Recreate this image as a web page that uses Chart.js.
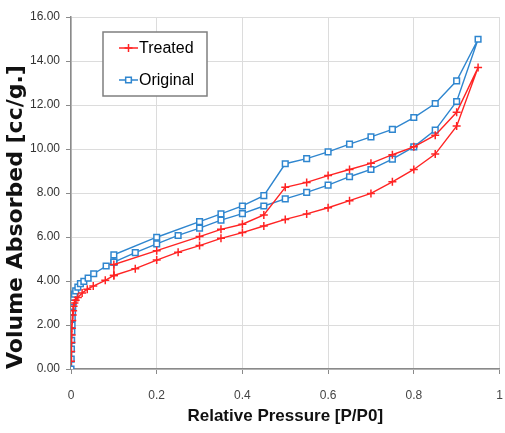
<!DOCTYPE html>
<html>
<head>
<meta charset="utf-8">
<script src="https://cdn.jsdelivr.net/npm/chart.js@4.4.1/dist/chart.umd.min.js"></script>
<style>
  html, body { margin: 0; padding: 0; background: #fff; overflow: hidden; }
  #chart { display: block; }
</style>
</head>
<body>
<canvas id="chart" width="505" height="433"></canvas>
<script>
// Isotherm data: adsorption branch up to 0.95, then desorption back down to 0.1
const treatedP = [0, 0.0005, 0.001, 0.0015, 0.002, 0.003, 0.004, 0.005, 0.006, 0.008, 0.011, 0.016, 0.026, 0.038, 0.052, 0.08, 0.1, 0.15, 0.2, 0.25, 0.3, 0.35, 0.4, 0.45, 0.5, 0.55, 0.6, 0.65, 0.7, 0.75, 0.8, 0.85, 0.9, 0.95,
  0.9, 0.85, 0.8, 0.75, 0.7, 0.65, 0.6, 0.55, 0.5, 0.45, 0.4, 0.35, 0.3, 0.2, 0.1, 0.1];
const treatedV = [0.35, 0.8, 1.2, 1.55, 1.85, 2.2, 2.45, 2.65, 2.85, 3.0, 3.12, 3.25, 3.45, 3.63, 3.77, 4.03, 4.25, 4.56, 4.95, 5.31, 5.61, 5.94, 6.2, 6.5, 6.8, 7.05, 7.33, 7.65, 7.98, 8.51, 9.07, 9.77, 11.04, 13.7,
  11.67, 10.63, 10.1, 9.74, 9.35, 9.07, 8.79, 8.48, 8.26, 7.0, 6.58, 6.35, 6.02, 5.38, 4.75, 4.25];

const originalP = [0, 0.0005, 0.001, 0.0015, 0.002, 0.0025, 0.003, 0.0035, 0.004, 0.005, 0.006, 0.008, 0.011, 0.016, 0.022, 0.03, 0.04, 0.053, 0.082, 0.1, 0.15, 0.2, 0.25, 0.3, 0.35, 0.4, 0.45, 0.5, 0.55, 0.6, 0.65, 0.7, 0.75, 0.8, 0.85, 0.9, 0.95,
  0.9, 0.85, 0.8, 0.75, 0.7, 0.65, 0.6, 0.55, 0.5, 0.45, 0.4, 0.35, 0.3, 0.2, 0.1, 0.1];
const originalV = [0, 0.45, 0.9, 1.3, 1.7, 2.0, 2.3, 2.6, 2.85, 3.05, 3.25, 3.4, 3.55, 3.72, 3.88, 3.98, 4.13, 4.33, 4.68, 4.86, 5.29, 5.69, 6.07, 6.4, 6.77, 7.06, 7.41, 7.73, 8.03, 8.36, 8.74, 9.07, 9.54, 10.1, 10.86, 12.16, 14.99,
  13.1, 12.07, 11.43, 10.89, 10.55, 10.22, 9.87, 9.56, 9.33, 7.88, 7.41, 7.05, 6.7, 5.99, 5.19, 4.86];

const seriesLabels = ['Treated', 'Original'];

const RED = '#ff2424';
const BLUE = '#2f86cf';
const SANS = "'Liberation Sans', Arial, sans-serif";

const toPoints = (xs, ys) => xs.map((x, i) => ({ x: x, y: ys[i] }));

// Legend drawn as a boxed panel inside the plot, like the original figure
const legendBox = {
  id: 'legendBox',
  afterDraw(chart) {
    const { ctx, chartArea } = chart;
    const x = chartArea.left + 32;
    const y = chartArea.top + 15;
    const w = 104, h = 64;
    ctx.save();
    ctx.fillStyle = '#ffffff';
    ctx.fillRect(x, y, w, h);
    ctx.strokeStyle = '#7f7f7f';
    ctx.lineWidth = 1.5;
    ctx.strokeRect(x, y, w, h);
    chart.data.datasets.forEach((ds, i) => {
      const ly = y + 16 + i * 32;
      ctx.strokeStyle = ds.borderColor;
      ctx.lineWidth = 1.5;
      ctx.beginPath();
      ctx.moveTo(x + 16, ly);
      ctx.lineTo(x + 35, ly);
      ctx.stroke();
      ctx.fillStyle = '#ffffff';
      Chart.helpers.drawPoint(ctx, {
        pointStyle: ds.pointStyle,
        radius: ds.pointRadius,
        borderWidth: ds.pointBorderWidth,
        rotation: 0
      }, x + 25.5, ly);
      ctx.fillStyle = '#000000';
      ctx.font = '16px ' + SANS;
      ctx.textBaseline = 'middle';
      ctx.textAlign = 'left';
      ctx.fillText(ds.label, x + 36, ly + 1);
    });
    ctx.restore();
  }
};

const data = {
  datasets: [{
    label: seriesLabels[0],
    data: toPoints(treatedP, treatedV),
    borderColor: RED,
    backgroundColor: RED,
    borderWidth: 1.4,
    pointStyle: 'cross',
    pointRadius: 4,
    pointBorderWidth: 1.5,
    pointBorderColor: RED,
    showLine: true,
    tension: 0
  }, {
    label: seriesLabels[1],
    data: toPoints(originalP, originalV),
    borderColor: BLUE,
    backgroundColor: '#ffffff',
    borderWidth: 1.4,
    pointStyle: 'rect',
    pointRadius: 4,
    pointBorderWidth: 1.5,
    pointBorderColor: BLUE,
    pointBackgroundColor: '#ffffff',
    showLine: true,
    tension: 0
  }]
};

new Chart(document.getElementById('chart'), {
  type: 'scatter',
  data: data,
  options: {
    responsive: false,
    animation: false,
    layout: { padding: { top: 17, right: 0, left: 0, bottom: 0 } },
    plugins: {
      legend: { display: false },
      tooltip: { enabled: false }
    },
    scales: {
      x: {
        type: 'linear',
        min: 0,
        max: 1,
        ticks: {
          stepSize: 0.2,
          color: '#444',
          padding: 14,
          font: { family: SANS, size: 12 },
          callback: v => String(Number(Number(v).toFixed(1)))
        },
        grid: { color: '#dcdcdc', tickColor: '#8a8a8a', tickLength: 5, lineWidth: 1 },
        border: { color: '#8a8a8a', width: 1.5 },
        title: {
          display: true,
          text: 'Relative Pressure [P/P0]',
          color: '#111',
          padding: { top: 0, bottom: 6 },
          font: { family: SANS, size: 17, weight: 'bold', lineHeight: 1.2 }
        },
        afterFit(scale) {
          scale.height = 64;
          scale.paddingLeft = 0;
          scale.paddingRight = 0;
        }
      },
      y: {
        min: 0,
        max: 16,
        ticks: {
          stepSize: 2,
          color: '#333',
          padding: 6,
          font: { family: SANS, size: 12 },
          callback: v => Number(v).toFixed(2)
        },
        grid: { color: '#dcdcdc', tickColor: '#8a8a8a', tickLength: 5, lineWidth: 1 },
        border: { color: '#8a8a8a', width: 1.5 },
        title: {
          display: true,
          text: 'Volume Absorbed [cc/g.]',
          align: 'start',
          color: '#111',
          padding: { top: 5, bottom: 0 },
          font: { family: "'DejaVu Sans', sans-serif", size: 22, weight: 'bold', lineHeight: 1 }
        },
        afterFit(scale) { scale.width = 71; }
      }
    }
  },
  plugins: [legendBox]
});
</script>
</body>
</html>
